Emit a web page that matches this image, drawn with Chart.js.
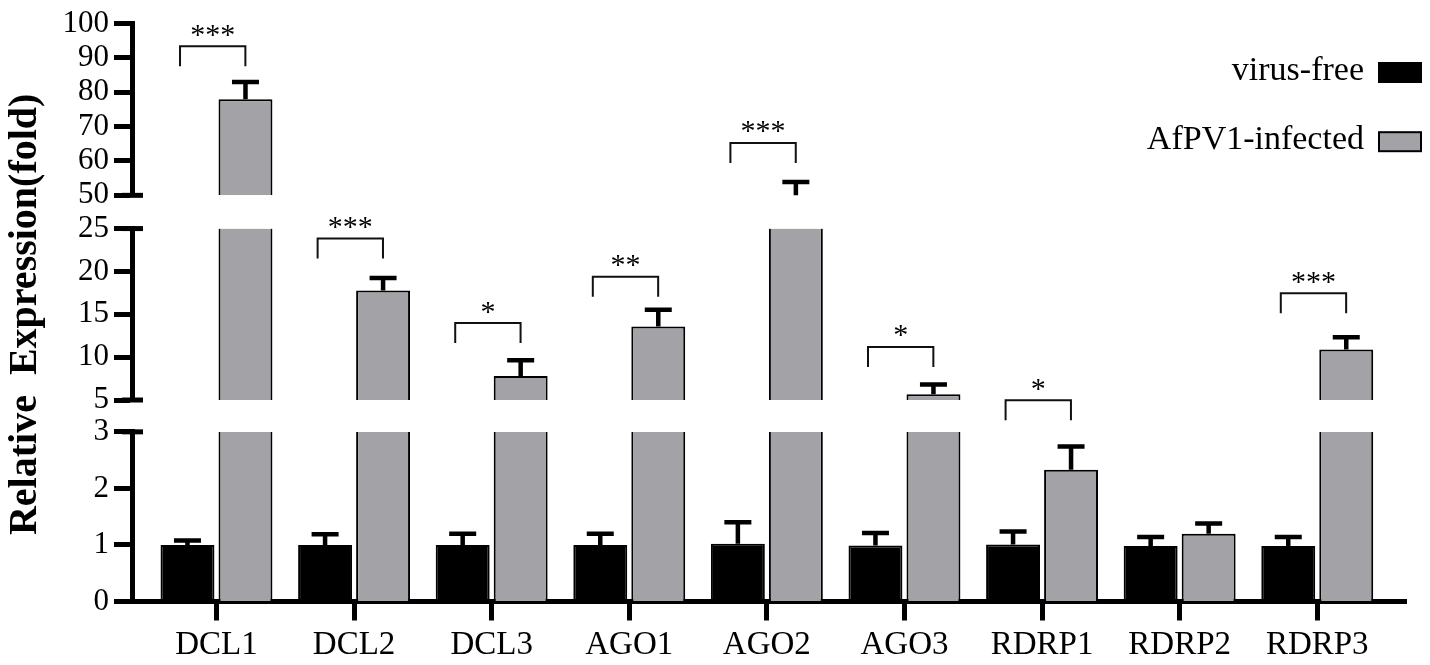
<!DOCTYPE html>
<html>
<head>
<meta charset="utf-8">
<script src="https://cdn.jsdelivr.net/npm/chart.js@4.4.1/dist/chart.umd.min.js"></script>
<style>
html,body{margin:0;padding:0;background:#fff;}
#wrap{width:1430px;height:665px;position:relative;}
</style>
</head>
<body>
<div id="wrap"><canvas id="c"></canvas></div>
<script>
// ---------------- data ----------------
const categories = ['DCL1','DCL2','DCL3','AGO1','AGO2','AGO3','RDRP1','RDRP2','RDRP3'];
const seriesNames = ['virus-free','AfPV1-infected'];
const virusFree    = [1.00, 1.00, 1.00, 1.00, 1.02, 0.99, 1.01, 0.98, 0.98];
const virusFreeErr = [0.08, 0.19, 0.20, 0.20, 0.38, 0.22, 0.23, 0.16, 0.16];
const infected     = [78.0, 17.77, 7.79, 13.59, 49.5, 5.66, 2.33, 1.20, 10.88];
const infectedErr  = [5.0, 1.47, 1.85, 1.94, 4.35, 1.16, 0.41, 0.18, 1.43];
const sigLabels    = ['***','***','*','**','***','*','*','','***'];
const sigHeights   = [93.4, 23.84, 13.97, 19.39, 65.24, 11.19, 4.97, null, 17.46];
const yTopTicks = [50, 60, 70, 80, 90, 100];
const yMidTicks = [5, 10, 15, 20, 25];
const yBotTicks = [0, 1, 2, 3];

// ---------------- style ----------------
const FONT = "'Liberation Serif', 'Times New Roman', serif";
const GRAY = '#a3a2a7';
const COLORS = ['#000000', GRAY];

// listed top to bottom
const segs = [
  {id:'yTop', ticks:yTopTicks, weight:172.6},
  {id:'gap1', weight:33.4},
  {id:'yMid', ticks:yMidTicks, weight:172.3},
  {id:'gap2', weight:32},
  {id:'yBot', ticks:yBotTicks, weight:170.5}
];
const real = segs.filter(s => s.ticks);
real.forEach(s => { s.min = s.ticks[0]; s.max = s.ticks[s.ticks.length - 1]; });
const segById = {}; real.forEach(s => segById[s.id] = s);

function segData(values, s) {
  const out = [];
  values.forEach((v, i) => {
    if (s.min === 0 || v > s.min) out.push({x: i, y: [s.min, Math.min(v, s.max)], cutTop: v > s.max});
  });
  return out;
}

const seriesValues = [virusFree, infected];
const seriesErrors = [virusFreeErr, infectedErr];
const datasets = [];
const botIndex = [];
seriesValues.forEach((vals, k) => {
  real.forEach(s => {
    if (s.id === 'yBot') botIndex[k] = datasets.length;
    datasets.push({
      label: seriesNames[k],
      data: segData(vals, s),
      xAxisID: 'x',
      yAxisID: s.id,
      stack: 's' + k,
      backgroundColor: COLORS[k],
      borderColor: '#000',
      borderSkipped: false,
      borderWidth: ctx => ({top: (ctx.raw && ctx.raw.cutTop) ? 0 : 2, left: 2, right: 2, bottom: 0}),
      categoryPercentage: 0.843,
      barPercentage: 0.93
    });
  });
});

const scales = {
  x: {
    type: 'linear', position: 'bottom', min: -0.614, max: 8.645, offset: false,
    afterBuildTicks: a => { a.ticks = categories.map((_, i) => ({value: i})); },
    ticks: {callback: v => categories[v], font: {family: FONT, size: 33}, color: '#000', padding: 5, autoSkip: false, maxRotation: 0},
    grid: {offset: false, drawOnChartArea: false, drawTicks: true, tickLength: 19, tickWidth: 5, tickColor: '#000'},
    border: {display: true, width: 5, color: '#000'},
    afterFit: a => { a.height = 63.5; }
  }
};
// stacked left axes are laid out from the last defined at the top, so add bottom-first
segs.slice().reverse().forEach(s => {
  if (!s.ticks) {
    scales[s.id] = {type: 'linear', display: false, position: 'left', stack: 'y', stackWeight: s.weight, min: 0, max: 1};
    return;
  }
  scales[s.id] = {
    type: 'linear', position: 'left', stack: 'y', stackWeight: s.weight, stacked: false,
    min: s.min, max: s.max,
    afterBuildTicks: a => { a.ticks = s.ticks.map(v => ({value: v})); },
    ticks: {font: {family: FONT, size: 31}, color: '#000', padding: 5, autoSkip: false},
    grid: {drawOnChartArea: false, drawTicks: true, tickLength: 18, tickWidth: 5, tickColor: '#000'},
    border: {display: true, width: 5, color: '#000'},
    title: s.id === 'yMid'
      ? {display: true, text: 'Relative  Expression(fold)', font: {family: FONT, size: 40, weight: 'bold'}, color: '#000', padding: {top: 2, bottom: 0}}
      : {display: false},
    afterFit: a => { a.width = 132; }
  };
});

function segFor(v) {
  for (const s of real) if (v >= s.min && v <= s.max) return s;
  return null;
}

// ---------------- plugins ----------------
const breakMarks = {
  id: 'breakMarks',
  afterDraw(chart) {
    const ctx = chart.ctx;
    ctx.save();
    ctx.strokeStyle = '#000';
    ctx.lineWidth = 5;
    real.forEach(s => {
      const sc = chart.scales[s.id];
      const ax = sc.right;
      const ends = [];
      if (s.id !== 'yTop') ends.push(sc.top);
      if (s.id !== 'yBot') ends.push(sc.bottom);
      ends.forEach(y => {
        ctx.beginPath();
        ctx.moveTo(ax - 10, y);
        ctx.lineTo(ax + 11, y);
        ctx.stroke();
      });
    });
    ctx.restore();
  }
};

const errorBars = {
  id: 'errorBars',
  afterDatasetsDraw(chart) {
    const ctx = chart.ctx;
    ctx.save();
    ctx.strokeStyle = '#000';
    ctx.lineWidth = 4.5;
    seriesValues.forEach((vals, k) => {
      const meta = chart.getDatasetMeta(botIndex[k]);
      vals.forEach((v, i) => {
        const top = v + seriesErrors[k][i];
        const s = segFor(top);
        if (!s) return;
        const sc = chart.scales[s.id];
        const x = meta.data[i].x;
        const y0 = sc.getPixelForValue(Math.max(v, s.min));
        const y1 = sc.getPixelForValue(top);
        ctx.beginPath();
        ctx.moveTo(x, y0);
        ctx.lineTo(x, y1);
        ctx.moveTo(x - 13.5, y1);
        ctx.lineTo(x + 13.5, y1);
        ctx.stroke();
      });
    });
    ctx.restore();
  }
};

const brackets = {
  id: 'brackets',
  afterDatasetsDraw(chart) {
    const ctx = chart.ctx;
    const xs = chart.scales.x;
    ctx.save();
    ctx.strokeStyle = '#111';
    ctx.lineWidth = 2;
    ctx.fillStyle = '#000';
    ctx.font = '30px ' + FONT;
    ctx.textAlign = 'center';
    ctx.textBaseline = 'alphabetic';
    sigLabels.forEach((lab, i) => {
      const v = sigHeights[i];
      if (!lab || v == null) return;
      const id = v > segById.yMid.max ? 'yTop' : (v > segById.yBot.max ? 'yMid' : 'yBot');
      const y = chart.scales[id].getPixelForValue(v);
      const xl = xs.getPixelForValue(i - 0.265);
      const xr = xs.getPixelForValue(i + 0.21);
      ctx.beginPath();
      ctx.moveTo(xl, y + 20);
      ctx.lineTo(xl, y);
      ctx.lineTo(xr, y);
      ctx.lineTo(xr, y + 20);
      ctx.stroke();
      ctx.fillText(lab, (xl + xr) / 2, y - 2.5);
    });
    ctx.restore();
  }
};

const sideLegend = {
  id: 'sideLegend',
  afterDraw(chart) {
    const ctx = chart.ctx;
    ctx.save();
    ctx.font = '34px ' + FONT;
    ctx.textAlign = 'right';
    ctx.textBaseline = 'alphabetic';
    const bx = chart.width - 52;
    const centers = [72.5, 141.7];
    seriesNames.forEach((name, k) => {
      const cy = centers[k];
      ctx.fillStyle = '#000';
      ctx.fillText(name, bx - 14, cy + 7.5);
      ctx.fillStyle = '#000';
      ctx.fillRect(bx, cy - 10.5, 44, 21);
      if (k === 1) {
        ctx.fillStyle = COLORS[1];
        ctx.fillRect(bx + 2, cy - 8.5, 40, 17);
      }
    });
    ctx.restore();
  }
};

new Chart(document.getElementById('c'), {
  type: 'bar',
  data: {datasets},
  options: {
    responsive: true,
    maintainAspectRatio: false,
    animation: false,
    layout: {padding: {top: 21, right: 24, bottom: 0, left: 0}},
    plugins: {legend: {display: false}, tooltip: {enabled: false}},
    scales
  },
  plugins: [breakMarks, errorBars, brackets, sideLegend]
});
</script>
</body>
</html>
